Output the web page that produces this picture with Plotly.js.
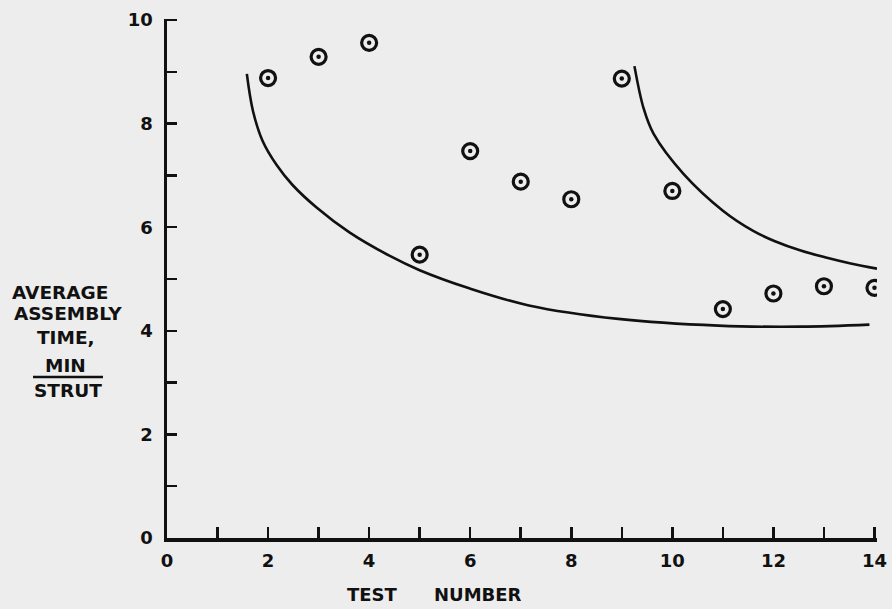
<!DOCTYPE html>
<html>
<head>
<meta charset="utf-8">
<script src="https://cdn.plot.ly/plotly-3.0.1.min.js"></script>
<style>
html,body{margin:0;padding:0;background:#ededed;}
#chart{width:892px;height:609px;}
</style>
</head>
<body>
<div id="chart"></div>
<script>
// Measured points (test number vs average assembly time)
var testNumber = [2, 3, 4, 5, 6, 7, 8, 9, 10, 11, 12, 13, 14];
var assemblyTime = [8.88, 9.29, 9.56, 5.47, 7.47, 6.88, 6.54, 8.87, 6.70, 4.42, 4.72, 4.86, 4.83];

// Lower curve
var curve1X = [1.58, 1.70, 1.89, 2.17, 2.48, 2.96, 3.61, 4.40, 5.00, 5.98, 7.16, 8.93, 10.91, 12.54, 13.90];
var curve1Y = [8.96, 8.25, 7.67, 7.20, 6.82, 6.38, 5.90, 5.45, 5.17, 4.82, 4.49, 4.23, 4.10, 4.08, 4.12];

// Upper curve
var curve2X = [9.25, 9.43, 9.63, 10.22, 11.00, 11.60, 12.03, 12.54, 13.02, 13.53, 14.05];
var curve2Y = [9.11, 8.30, 7.80, 7.03, 6.32, 5.93, 5.73, 5.55, 5.42, 5.30, 5.20];

// Tick labels
var xTickVals = [0,1,2,3,4,5,6,7,8,9,10,11,12,13,14];
var xTickText = ["0","","2","","4","","6","","8","","10","","12","","14"];
var yTickVals = [0,1,2,3,4,5,6,7,8,9,10];
var yTickText = ["0","","2","","4","","6","","8","","10"];

var FONT = "DejaVu Sans, Arial, sans-serif";

var traces = [
  {x: curve1X, y: curve1Y, mode: "lines", type: "scatter",
   line: {color: "#111", width: 2.6, shape: "spline", smoothing: 1}, hoverinfo: "skip"},
  {x: curve2X, y: curve2Y, mode: "lines", type: "scatter",
   line: {color: "#111", width: 2.6, shape: "spline", smoothing: 1}, hoverinfo: "skip"},
  {x: testNumber, y: assemblyTime, mode: "markers", type: "scatter",
   marker: {symbol: "circle-open", size: 15, color: "#111", line: {color: "#111", width: 3.2}}},
  {x: testNumber, y: assemblyTime, mode: "markers", type: "scatter",
   marker: {symbol: "circle", size: 4.5, color: "#111", line: {width: 0}}}
];

var layout = {
  width: 892, height: 609,
  paper_bgcolor: "#ededed", plot_bgcolor: "#ededed",
  showlegend: false,
  margin: {l: 167, r: 15, t: 19, b: 71},
  xaxis: {
    range: [0, 14.05], showgrid: false, zeroline: false,
    showline: true, linecolor: "#111", linewidth: 3.5,
    tickmode: "array", tickvals: xTickVals, ticktext: xTickText,
    ticks: "inside", ticklen: 11, tickwidth: 2.5, tickcolor: "#111",
    tickfont: {family: FONT, size: 18, color: "#111", weight: "bold"},
    ticklabelstandoff: 4,
    title: {text: ""}
  },
  yaxis: {
    range: [0, 10.02], showgrid: false, zeroline: false,
    showline: true, linecolor: "#111", linewidth: 3.5,
    tickmode: "array", tickvals: yTickVals, ticktext: yTickText,
    ticks: "inside", ticklen: 10, tickwidth: 2.5, tickcolor: "#111",
    tickfont: {family: FONT, size: 18, color: "#111", weight: "bold"},
    ticklabelstandoff: 7,
    title: {text: ""}
  },
  annotations: [],
  shapes: []
};

var plotW = 892 - 167 - 15;
var plotH = 609 - 19 - 71;
function px(xp){ return (xp - 167) / plotW; }
function py(yp){ return 1 - (yp - 19) / plotH; }

// Y-axis title block (pixel centres)
var yTitleLines = [
  {t: "AVERAGE", x: 60, y: 292},
  {t: "ASSEMBLY", x: 68, y: 313},
  {t: "TIME,", x: 66, y: 337},
  {t: "MIN", x: 65, y: 365},
  {t: "STRUT", x: 68, y: 390}
];
yTitleLines.forEach(function(l){
  layout.annotations.push({
    xref: "paper", yref: "paper", x: px(l.x), y: py(l.y),
    xanchor: "center", yanchor: "middle", showarrow: false,
    text: "<b>" + l.t + "</b>", font: {family: FONT, size: 18.5, color: "#111"}
  });
});
// x title words
[{t: "TEST", x: 372}, {t: "NUMBER", x: 478}].forEach(function(w){
  layout.annotations.push({
    xref: "paper", yref: "paper", x: px(w.x), y: py(595),
    xanchor: "center", yanchor: "middle", showarrow: false,
    text: "<b>" + w.t + "</b>", font: {family: FONT, size: 18, color: "#111"}
  });
});
// fraction bar under MIN
layout.shapes.push({
  type: "line", xref: "paper", yref: "paper",
  x0: px(33), x1: px(103), y0: py(377), y1: py(377),
  line: {color: "#111", width: 2.5}
});

Plotly.newPlot("chart", traces, layout, {displayModeBar: false, staticPlot: true});
</script>
</body>
</html>
